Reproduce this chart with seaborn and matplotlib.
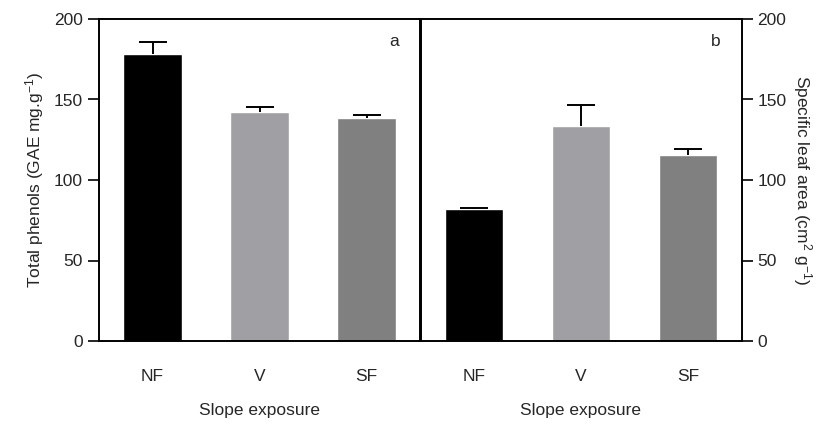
import matplotlib
matplotlib.use("Agg")
import matplotlib.pyplot as plt
import seaborn as sns
import pandas as pd
import numpy as np

categories = ["NF", "V", "SF"]
phenols = [178, 142, 138.5]
phenols_err = [8, 3.5, 2]
sla = [82, 133.5, 115.5]
sla_err = [0.5, 13, 4]
bar_colors = ["#000000", "#a0a0a4", "#808080"]
yticks = [0, 50, 100, 150, 200]

sns.set_style("white")
plt.rcParams["font.family"] = ["Liberation Sans", "DejaVu Sans"]
plt.rcParams["mathtext.fontset"] = "custom"
plt.rcParams["mathtext.rm"] = "Liberation Sans"
plt.rcParams["mathtext.it"] = "Liberation Sans"

fig = plt.figure(figsize=(8.22, 4.28), dpi=100)
axA = fig.add_axes([99/822, 87/428, 321/822, 322/428])
axB = fig.add_axes([420.5/822, 87/428, 321/822, 322/428])

def draw(ax, vals, errs):
    df = pd.DataFrame({"cat": categories, "val": vals})
    sns.barplot(data=df, x="cat", y="val", hue="cat", palette=bar_colors,
                order=categories, hue_order=categories, width=0.55,
                legend=False, ax=ax, saturation=1, errorbar=None)
    xs = np.arange(len(vals))
    tops = np.array(vals) + np.array(errs)
    ax.errorbar(xs, vals, yerr=[[0]*len(vals), errs], fmt="none",
                ecolor="black", elinewidth=1.4, capsize=0, zorder=5)
    ax.plot(xs, tops, linestyle="none", marker="_", markersize=20,
            markeredgewidth=1.4, color="black", zorder=5)
    ax.set_xlim(-0.5, 2.5)
    ax.set_ylim(0, 200)
    ax.set_yticks(yticks)
    for s in ax.spines.values():
        s.set_visible(True)
        s.set_linewidth(1.4)
        s.set_color("black")
    ax.set_xlabel("Slope exposure", fontsize=12.5, labelpad=14)
    ax.tick_params(axis="x", direction="out", length=6, width=1.4, labelsize=12.5, pad=14)

draw(axA, phenols, phenols_err)
draw(axB, sla, sla_err)

axA.tick_params(axis="y", direction="out", length=8, width=1.4, labelsize=12.5, left=True, right=False)
axA.set_ylabel("Total phenols (GAE mg.g$^{-1}$)", fontsize=12.5, labelpad=6)

axB.yaxis.tick_right()
axB.yaxis.set_label_position("right")
axB.tick_params(axis="y", direction="out", length=8, width=1.4, labelsize=12.5, left=False, right=True)
axB.set_ylabel("Specific leaf area (cm$^{2}$ g$^{-1}$)", fontsize=12.5, rotation=-90, labelpad=20)

axA.text(0.92, 0.915, "a", transform=axA.transAxes, fontsize=12.5, ha="center")
axB.text(0.92, 0.915, "b", transform=axB.transAxes, fontsize=12.5, ha="center")

fig.savefig("out.png", dpi=100)
